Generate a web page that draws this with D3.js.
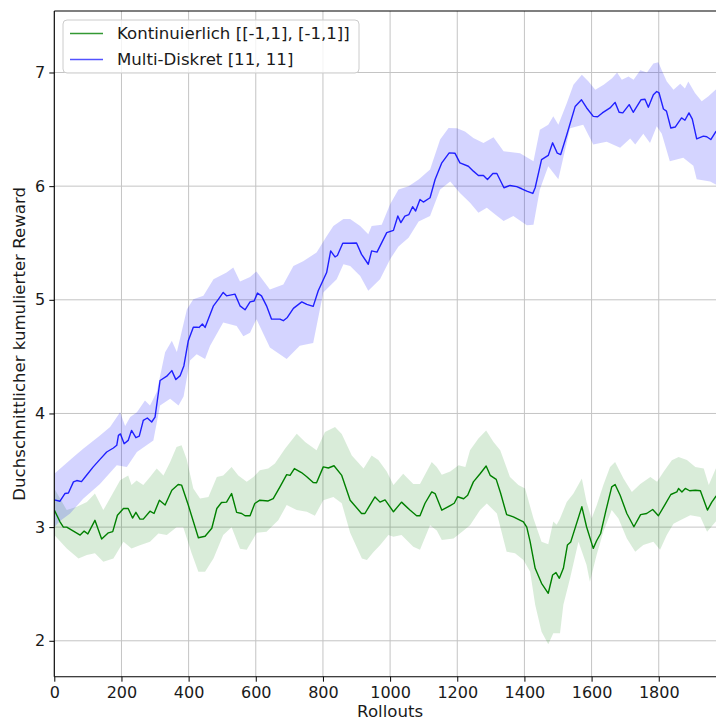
<!DOCTYPE html>
<html>
<head>
<meta charset="utf-8">
<script src="https://cdn.jsdelivr.net/npm/d3@7"></script>
<style>
  html, body { margin: 0; padding: 0; background: #fff; }
  svg { display: block; font-family: "DejaVu Sans", sans-serif; }
</style>
</head>
<body>
<svg id="chart" width="716" height="720"></svg>
<script>
// Series labels
const seriesNames = ["Kontinuierlich [[-1,1], [-1,1]]", "Multi-Diskret [11, 11]"];

// Axis ticks
const xTicks = [0, 200, 400, 600, 800, 1000, 1200, 1400, 1600, 1800];
const yTicks = [2, 3, 4, 5, 6, 7];

// Continuous action space: mean reward [rollout, reward]
const kontMean = [[0,3.15],[17,3.047],[27,3.0],[37,3.0],[57,2.965],[77,2.93],[89,2.965],[100,2.94],[121,3.06],[141,2.895],[161,2.95],[174,2.96],[188,3.105],[206,3.164],[220,3.164],[233,3.08],[243,3.13],[255,3.07],[265,3.07],[285,3.14],[297,3.12],[313,3.237],[330,3.194],[350,3.325],[369,3.375],[379,3.37],[399,3.194],[429,2.907],[449,2.92],[469,2.99],[484,3.164],[498,3.217],[513,3.22],[528,3.296],[543,3.13],[558,3.12],[568,3.10],[583,3.10],[597,3.208],[612,3.237],[637,3.23],[652,3.25],[672,3.354],[692,3.462],[702,3.455],[715,3.515],[736,3.48],[751,3.446],[771,3.392],[781,3.39],[801,3.53],[816,3.52],[833,3.54],[856,3.455],[881,3.237],[915,3.12],[925,3.12],[940,3.194],[955,3.266],[970,3.22],[985,3.24],[1010,3.135],[1034,3.22],[1059,3.15],[1079,3.1],[1089,3.1],[1104,3.21],[1124,3.31],[1134,3.295],[1154,3.149],[1179,3.19],[1191,3.21],[1201,3.267],[1219,3.25],[1231,3.28],[1248,3.398],[1268,3.47],[1286,3.538],[1298,3.456],[1316,3.42],[1329,3.30],[1347,3.11],[1367,3.09],[1397,3.047],[1407,3.0],[1417,2.872],[1432,2.638],[1451,2.506],[1471,2.418],[1484,2.579],[1494,2.60],[1504,2.55],[1516,2.638],[1528,2.842],[1538,2.87],[1571,3.179],[1585,3.003],[1605,2.813],[1615,2.88],[1627,2.944],[1643,3.149],[1660,3.354],[1670,3.375],[1685,3.28],[1705,3.12],[1726,3.003],[1746,3.11],[1764,3.12],[1782,3.155],[1799,3.10],[1819,3.2],[1836,3.287],[1854,3.31],[1859,3.34],[1869,3.31],[1879,3.34],[1892,3.32],[1909,3.325],[1924,3.32],[1945,3.15],[1958,3.22],[1970,3.27],[1985,3.30]];

// Continuous action space: upper edge of spread
const kontUpper = [[0,3.34],[37,3.15],[67,3.18],[97,3.222],[121,3.296],[146,3.15],[171,3.28],[196,3.413],[220,3.455],[230,3.37],[245,3.41],[265,3.37],[285,3.44],[305,3.515],[325,3.455],[345,3.574],[364,3.705],[379,3.72],[394,3.6],[414,3.34],[434,3.252],[459,3.266],[484,3.44],[503,3.455],[528,3.53],[548,3.455],[573,3.40],[593,3.44],[612,3.5],[637,3.515],[657,3.56],[687,3.69],[722,3.822],[747,3.75],[781,3.676],[806,3.837],[836,3.88],[856,3.82],[886,3.63],[921,3.515],[945,3.63],[965,3.59],[990,3.49],[1010,3.37],[1039,3.47],[1069,3.38],[1089,3.38],[1124,3.574],[1139,3.53],[1154,3.46],[1179,3.49],[1204,3.545],[1224,3.53],[1238,3.676],[1263,3.78],[1286,3.85],[1308,3.75],[1328,3.676],[1357,3.44],[1382,3.37],[1402,3.34],[1427,3.076],[1451,2.872],[1471,2.85],[1486,3.05],[1496,3.02],[1506,3.076],[1526,3.22],[1546,3.296],[1571,3.427],[1585,3.22],[1600,3.076],[1615,3.19],[1635,3.37],[1655,3.53],[1670,3.574],[1695,3.427],[1720,3.31],[1745,3.38],[1775,3.44],[1795,3.40],[1815,3.49],[1839,3.588],[1859,3.618],[1884,3.59],[1909,3.53],[1934,3.515],[1949,3.37],[1970,3.515],[1985,3.54]];

// Continuous action space: lower edge of spread
const kontLower = [[0,2.93],[37,2.813],[72,2.725],[97,2.754],[121,2.77],[146,2.696],[176,2.725],[206,2.872],[230,2.813],[255,2.84],[285,2.872],[310,2.944],[335,2.93],[364,3.0],[384,3.0],[409,2.77],[429,2.608],[449,2.608],[474,2.725],[503,2.93],[528,3.0],[553,2.81],[573,2.8],[603,2.95],[632,2.96],[667,3.06],[692,3.194],[722,3.15],[752,3.135],[776,3.10],[801,3.237],[831,3.266],[856,3.21],[881,2.95],[916,2.725],[931,2.71],[950,2.78],[970,2.84],[995,2.93],[1010,2.915],[1034,2.93],[1069,2.828],[1089,2.8],[1119,3.017],[1139,2.97],[1154,2.886],[1189,2.9],[1219,2.97],[1238,3.017],[1268,3.15],[1288,3.208],[1318,3.12],[1347,2.784],[1372,2.77],[1397,2.71],[1417,2.608],[1432,2.316],[1451,2.08],[1471,1.97],[1486,2.066],[1506,2.066],[1516,2.316],[1536,2.55],[1561,2.872],[1585,2.667],[1595,2.52],[1615,2.755],[1635,2.96],[1660,3.15],[1680,3.076],[1705,2.9],[1730,2.784],[1754,2.842],[1784,2.872],[1804,2.8],[1824,2.93],[1844,3.03],[1864,3.06],[1894,3.105],[1924,3.09],[1944,2.96],[1970,3.05],[1985,3.07]];

// Multi-discrete action space: mean reward [rollout, reward]
const diskMean = [[0,3.24],[17,3.228],[32,3.296],[42,3.30],[57,3.398],[67,3.41],[81,3.40],[96,3.456],[116,3.53],[136,3.596],[156,3.661],[176,3.696],[186,3.72],[191,3.807],[197,3.82],[208,3.734],[220,3.763],[230,3.851],[243,3.787],[253,3.80],[265,3.939],[277,3.96],[290,3.925],[300,3.968],[315,4.29],[335,4.328],[350,4.377],[362,4.298],[375,4.333],[386,4.42],[399,4.64],[414,4.758],[424,4.76],[431,4.757],[441,4.787],[449,4.757],[474,4.947],[489,5.006],[503,5.065],[513,5.035],[538,5.05],[553,4.947],[568,4.912],[583,4.982],[595,4.99],[605,5.059],[617,5.035],[632,4.947],[647,4.83],[672,4.83],[682,4.816],[694,4.845],[712,4.925],[737,4.982],[752,4.96],[771,4.942],[786,5.079],[811,5.24],[823,5.43],[836,5.377],[843,5.39],[859,5.497],[879,5.497],[900,5.50],[915,5.40],[935,5.313],[945,5.43],[961,5.42],[990,5.591],[1010,5.611],[1023,5.737],[1032,5.679],[1044,5.737],[1056,5.75],[1067,5.819],[1076,5.781],[1089,5.883],[1099,5.86],[1119,5.898],[1134,6.059],[1154,6.205],[1176,6.293],[1193,6.29],[1208,6.205],[1233,6.175],[1248,6.132],[1263,6.094],[1278,6.094],[1290,6.059],[1306,6.111],[1318,6.111],[1339,5.986],[1357,6.006],[1377,5.996],[1392,5.977],[1407,5.956],[1425,5.936],[1432,5.986],[1451,6.234],[1471,6.27],[1484,6.381],[1498,6.29],[1508,6.278],[1526,6.45],[1551,6.70],[1570,6.76],[1585,6.69],[1605,6.614],[1618,6.61],[1632,6.644],[1655,6.688],[1670,6.737],[1682,6.65],[1693,6.645],[1712,6.717],[1724,6.65],[1747,6.76],[1759,6.765],[1769,6.695],[1784,6.804],[1794,6.833],[1801,6.82],[1814,6.679],[1823,6.66],[1836,6.512],[1849,6.52],[1868,6.6],[1878,6.58],[1890,6.644],[1900,6.59],[1913,6.416],[1933,6.44],[1943,6.435],[1955,6.41],[1970,6.48],[1985,6.51]];

// Multi-discrete action space: upper edge of spread
const diskUpper = [[0,3.47],[57,3.617],[86,3.69],[136,3.807],[166,3.88],[196,4.01],[211,3.89],[226,3.968],[246,4.01],[270,4.114],[285,4.07],[305,4.188],[330,4.539],[350,4.64],[365,4.54],[395,4.918],[414,5.006],[444,5.035],[474,5.18],[513,5.24],[533,5.284],[553,5.16],[583,5.20],[602,5.25],[642,5.09],[682,5.135],[712,5.298],[741,5.34],[781,5.416],[811,5.56],[831,5.65],[861,5.71],[881,5.71],[911,5.65],[935,5.576],[945,5.65],[975,5.66],[1000,5.84],[1025,5.97],[1055,6.0],[1085,6.059],[1119,6.147],[1149,6.41],[1174,6.512],[1199,6.51],[1223,6.48],[1248,6.424],[1278,6.38],[1308,6.43],[1338,6.307],[1387,6.29],[1427,6.22],[1446,6.497],[1471,6.54],[1486,6.614],[1501,6.54],[1526,6.73],[1546,6.892],[1571,6.98],[1591,6.92],[1611,6.848],[1636,6.892],[1661,6.95],[1676,7.0],[1690,6.936],[1710,6.965],[1725,6.936],[1745,7.02],[1765,7.0],[1784,7.08],[1799,7.09],[1809,7.02],[1824,6.92],[1844,6.848],[1864,6.9],[1878,6.86],[1888,6.92],[1908,6.82],[1928,6.746],[1948,6.79],[1970,6.85],[1985,6.88]];

// Multi-discrete action space: lower edge of spread
const diskLower = [[0,3.0],[15,3.05],[47,3.12],[86,3.25],[136,3.38],[186,3.544],[216,3.53],[246,3.66],[295,3.763],[315,4.07],[345,4.129],[370,4.07],[385,4.15],[404,4.465],[424,4.52],[449,4.48],[464,4.596],[503,4.8],[543,4.77],[563,4.68],[583,4.71],[602,4.83],[642,4.58],[692,4.48],[731,4.596],[771,4.62],[801,5.065],[841,5.18],[861,5.313],[881,5.298],[911,5.21],[935,5.079],[970,5.18],[1000,5.357],[1025,5.47],[1055,5.547],[1085,5.69],[1119,5.737],[1149,5.97],[1179,6.04],[1208,5.94],[1238,5.854],[1263,5.766],[1288,5.81],[1313,5.75],[1338,5.693],[1367,5.737],[1407,5.655],[1427,5.66],[1446,5.97],[1471,6.175],[1501,6.06],[1536,6.51],[1575,6.54],[1605,6.366],[1645,6.39],[1685,6.337],[1715,6.42],[1730,6.366],[1754,6.46],[1774,6.38],[1794,6.526],[1809,6.46],[1833,6.22],[1873,6.25],[1903,6.18],[1913,6.06],[1953,6.04],[1970,6.015],[1985,6.0]];

const series = [
  { name: seriesNames[0], mean: kontMean, upper: kontUpper, lower: kontLower,
    color: "#008000", fillOpacity: 0.15, lineOpacity: 1 },
  { name: seriesNames[1], mean: diskMean, upper: diskUpper, lower: diskLower,
    color: "#0000ff", fillOpacity: 0.17, lineOpacity: 0.85 }
];

// Layout
const plot = { left: 54.3, right: 725.9, top: 11, bottom: 676.7 };
const x = d3.scaleLinear().domain([0, 2000]).range([plot.left, plot.right]);
const y = d3.scaleLinear().domain([1.684, 7.541]).range([plot.bottom, plot.top]);

const svg = d3.select("#chart");
const tickFont = 16;
const labelFont = 16.6;

svg.append("defs").append("clipPath").attr("id", "plot-clip")
  .append("rect")
  .attr("x", plot.left).attr("y", plot.top)
  .attr("width", plot.right - plot.left).attr("height", plot.bottom - plot.top);

// Grid
const grid = svg.append("g").attr("class", "grid");
grid.selectAll("line.vx").data(xTicks).join("line")
  .attr("x1", d => x(d)).attr("x2", d => x(d))
  .attr("y1", plot.top).attr("y2", plot.bottom)
  .attr("stroke", "#c4c4c4").attr("stroke-width", 1);
grid.selectAll("line.hy").data(yTicks).join("line")
  .attr("x1", plot.left).attr("x2", plot.right)
  .attr("y1", d => y(d)).attr("y2", d => y(d))
  .attr("stroke", "#c4c4c4").attr("stroke-width", 1);

// Bands and mean lines
const line = d3.line().x(d => x(d[0])).y(d => y(d[1]));
const plotArea = svg.append("g").attr("clip-path", "url(#plot-clip)");

series.forEach(s => {
  const ring = s.upper.concat(s.lower.slice().reverse());
  plotArea.append("path")
    .attr("d", line(ring) + "Z")
    .attr("fill", s.color)
    .attr("fill-opacity", s.fillOpacity)
    .attr("stroke", "none");
});
series.forEach(s => {
  plotArea.append("path")
    .attr("d", line(s.mean))
    .attr("fill", "none")
    .attr("stroke", s.color)
    .attr("stroke-opacity", s.lineOpacity)
    .attr("stroke-width", 1.4)
    .attr("stroke-linejoin", "round");
});

// Axes
const xAxis = d3.axisBottom(x).tickValues(xTicks).tickFormat(d3.format("d"))
  .tickSize(5).tickPadding(5).tickSizeOuter(0);
const yAxis = d3.axisLeft(y).tickValues(yTicks).tickFormat(d3.format("d"))
  .tickSize(5).tickPadding(4).tickSizeOuter(0);

const gx = svg.append("g").attr("transform", `translate(0,${plot.bottom})`).call(xAxis);
const gy = svg.append("g").attr("transform", `translate(${plot.left},0)`).call(yAxis);
[gx, gy].forEach(g => {
  g.select(".domain").remove();
  g.selectAll(".tick line").attr("stroke", "#000").attr("stroke-width", 1);
  g.selectAll(".tick text")
    .attr("fill", "#1a1a1a")
    .style("font-family", "'DejaVu Sans', sans-serif")
    .style("font-size", tickFont + "px");
});

// Spines
const spines = svg.append("g").attr("stroke", "#000").attr("stroke-width", 1.1);
spines.append("line").attr("x1", plot.left).attr("x2", plot.left).attr("y1", plot.top).attr("y2", plot.bottom);
spines.append("line").attr("x1", plot.left).attr("x2", plot.right).attr("y1", plot.bottom).attr("y2", plot.bottom);
spines.append("line").attr("x1", plot.left).attr("x2", plot.right).attr("y1", plot.top).attr("y2", plot.top);
spines.append("line").attr("x1", plot.right).attr("x2", plot.right).attr("y1", plot.top).attr("y2", plot.bottom);

// Axis titles
svg.append("text")
  .attr("x", (plot.left + plot.right) / 2).attr("y", 716.5)
  .attr("text-anchor", "middle")
  .attr("fill", "#1a1a1a")
  .style("font-size", labelFont + "px")
  .text("Rollouts");

svg.append("text")
  .attr("transform", `translate(25,${(plot.top + plot.bottom) / 2}) rotate(-90)`)
  .attr("text-anchor", "middle")
  .attr("fill", "#1a1a1a")
  .style("font-size", labelFont + "px")
  .text("Duchschnittlicher kumulierter Reward");

// Legend
const legend = svg.append("g").attr("transform", "translate(63,20)");
legend.append("rect")
  .attr("width", 296).attr("height", 53).attr("rx", 4)
  .attr("fill", "#fff").attr("fill-opacity", 0.8)
  .attr("stroke", "#cccccc").attr("stroke-width", 1);
series.forEach((s, i) => {
  const ly = 13.5 + i * 26;
  legend.append("line")
    .attr("x1", 7).attr("x2", 40).attr("y1", ly).attr("y2", ly)
    .attr("stroke", s.color).attr("stroke-opacity", s.lineOpacity * 0.8)
    .attr("stroke-width", 1.4);
  legend.append("text")
    .attr("x", 54).attr("y", ly)
    .attr("dy", "0.35em")
    .attr("fill", "#1a1a1a")
    .style("font-size", labelFont + "px")
    .text(s.name);
});
</script>
</body>
</html>
